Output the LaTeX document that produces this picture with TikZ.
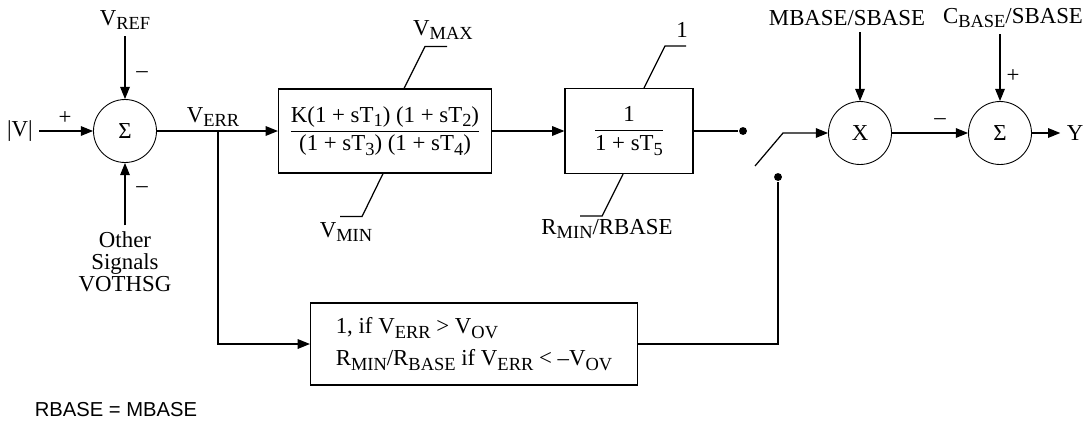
\documentclass[tikz,border=0pt]{standalone}
\usepackage{fontspec}
\setmainfont{Liberation Serif}
\setsansfont{Liberation Sans}
\usetikzlibrary{arrows.meta,positioning}
\newcommand{\lo}[1]{\raisebox{-0.45ex}{\fontsize{10.5}{10.5}\selectfont #1}}

\begin{document}
\begin{tikzpicture}[x=0.02cm, y=-0.02cm, line width=0.7pt,
        >={Triangle[length=7pt,width=5.5pt]},
        font=\fontsize{13}{15}\selectfont,
        sum/.style={draw, circle, minimum size=1.26cm, inner sep=0pt, line width=0.5pt},
        block/.style={draw, rectangle, inner sep=0pt},
        dot/.style={circle, fill, inner sep=0pt, minimum size=4.5pt}]
        \useasboundingbox (0,0) rectangle (1091,423);

        % first summer
        \node[sum] (s1) at (125,131) {Σ};
        \node (vin) at (20,131) {|V|};
        \node (pv) at (65,118) {+};
        \node (vref) at (125,20) {V\lo{REF}};
        \node (mref) at (142,75) {–};
        \node[align=center, font=\fontsize{13}{12.5}\selectfont] (oth) at (125,262) {Other\\Signals\\VOTHSG};
        \node (moth) at (142,190) {–};
        \draw[->] (vin) -- (s1);
        \draw[->] (vref) -- (s1);
        \draw[->] (oth) -- (s1);

        % lead-lag block
        \node (verr) at (213,117) {V\lo{ERR}};
        \node[block, minimum width=4.26cm, minimum height=1.68cm] (lead) at (385,131)
            {$\displaystyle\frac{\mbox{K(1 + sT\lo{1}) (1 + sT\lo{2})}}{\mbox{(1 + sT\lo{3}) (1 + sT\lo{4})}}$};
        \node (vmax) at (443,30) {V\lo{MAX}};
        \node (vmin) at (346,232) {V\lo{MIN}};
        \draw ([xshift=0.38cm]lead.north) -- ++(21,-42) -- ++(22,0);
        \draw ([xshift=-0.04cm]lead.south) -- ++(-21,43) -- ++(-22,0);
        \draw[->] (s1) -- (lead);

        % lag block
        \node[block, minimum width=2.56cm, minimum height=1.7cm] (lag) at (629,131)
            {$\displaystyle\frac{\mbox{1}}{\mbox{1 + sT\lo{5}}}$};
        \node (one) at (682,30) {1};
        \node (rmin) at (607,229) {R\lo{MIN}/RBASE};
        \draw ([xshift=0.3cm]lag.north) -- ++(21,-42) -- ++(21,0);
        \draw ([xshift=-0.12cm]lag.south) -- ++(-21,42) -- ++(-22,0);
        \draw[->] (lead) -- (lag);

        % selector branch
        \coordinate (br) at (218,131);
        \node[block, minimum width=6.54cm, minimum height=1.64cm, align=left,
            font=\fontsize{13}{18}\selectfont] (sel) at (474,344)
            {1, if V\lo{ERR} > V\lo{OV}\\R\lo{MIN}/R\lo{BASE} if V\lo{ERR} < –V\lo{OV}};
        \draw[->] (br) |- (sel);

        % switch
        \node[dot] (d1) at (743,131) {};
        \node[dot] (d2) at (778,177) {};
        \coordinate (sw) at (755,166);
        \draw (lag) -- (d1);
        \draw (sel) -| (d2);

        % output stage
        \node[sum] (mul) at (860,133) {X};
        \node[sum] (s2) at (1000,133) {Σ};
        \node (mbase) at (847,18) {MBASE/SBASE};
        \node (cbase) at (1013,18) {C\lo{BASE}/SBASE};
        \node (mmul) at (940,122) {–};
        \node (pc) at (1013,76) {+};
        \node (yout) at (1075,133) {Y};
        \draw[->] (sw) -- ++(28,-33) -- (mul);
        \draw[->] (mbase.south -| mul) -- (mul);
        \draw[->] (cbase.south -| s2) -- (s2);
        \draw[->] (mul) -- (s2);
        \draw[->] (s2) -- (yout);

        \node[font=\sffamily\fontsize{11.5}{12}\selectfont] (note) at (116,410) {RBASE = MBASE};
\end{tikzpicture}
\end{document}
